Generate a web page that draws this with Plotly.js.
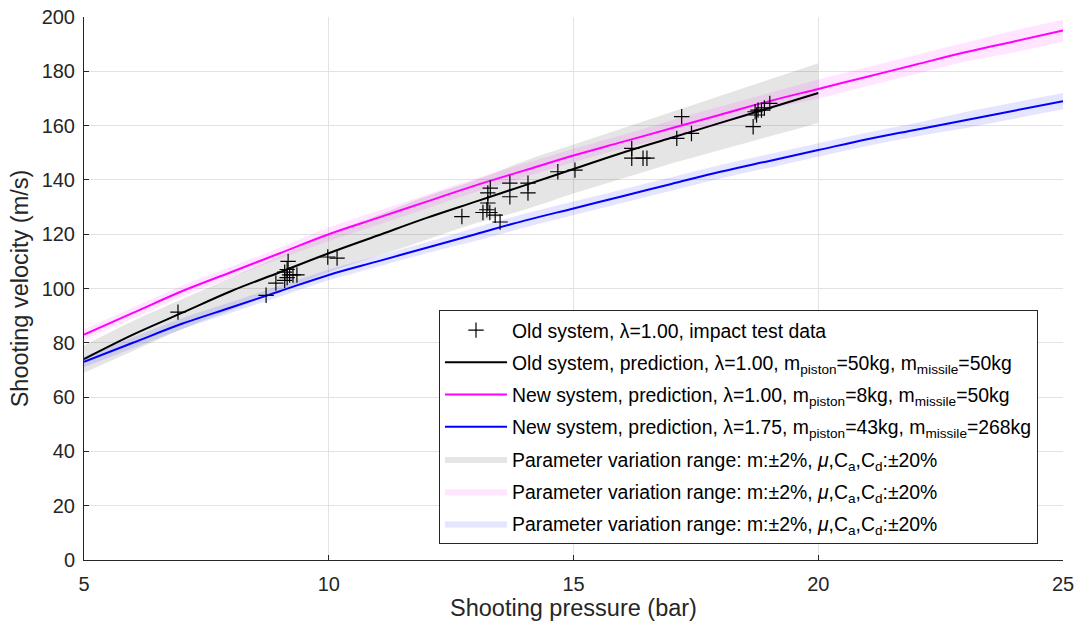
<!DOCTYPE html>
<html>
<head>
<meta charset="utf-8">
<script src="https://cdn.plot.ly/plotly-3.0.1.min.js"></script>
<style>html,body{margin:0;padding:0;background:#fff;}#chart{width:1081px;height:628px;}</style>
</head>
<body>
<div id="chart"></div>
<script>
// Old system prediction (5..20 bar)
var pOld = [5,6,7,8,9,10,11,12,13,14,15,16,17,18,19,20];
var vOld = [74,83,91,99,106,113,119.5,126,132,138,144,150,155.5,161,166.5,172];
var vOldUpper = [79,88,96,104,112,120,127,134,140,147,153,159,165,171,177,183];
var vOldLower = [69,77,85,92,99,106,112,118,124,129,135,140.5,146,151,156,161];

// New systems prediction (5..25 bar)
var pNew = [5,6,7,8,9,10,11,12,13,14,15,16,17,18,19,20,21,22,23,24,25];
var vMag = [83,91,99,106,113,120,126,132,138,143.5,149,154,159,164,169,173.5,178,182.5,187,191,195];
var vMagUpper = [85,93,101,108,115,122.5,128.5,134.5,140.5,146,151.5,156.5,162,167,172,177,181.5,186,190.5,195,199];
var vMagLower = [81,89,97,104,111,117.5,123.5,129.5,135.5,141,146.5,151.5,156,161,166,170,174.5,179,183.5,187,191];
var vBlue = [73,80,87,93,99,105,110,115,120,125,129.5,134,138.5,143,147,151,155,158.5,162,165.5,169];
var vBlueUpper = [75,82,89,95,101,107,112,117,122.5,127.5,132,136.5,141,145.5,149.5,153.5,157.5,161,165,168.5,172];
var vBlueLower = [71,78,85,91,97,103,108,113,117.5,122.5,127,131.5,136,140.5,144.5,148.5,152.5,156,159,162.5,166];

// Impact test data (old system)
var testP = [6.92,8.72,8.92,9.1,9.15,9.15,9.2,9.27,9.35,9.17,9.1,9.98,10.17,
             12.72,13.25,13.25,13.23,13.15,13.29,13.4,13.5,13.3,13.7,13.7,14.07,14.07,14.68,15.03,
             16.19,16.19,16.42,16.5,17.21,17.11,17.41,18.67,18.71,18.77,18.84,19.01,18.9,18.74];
var testV = [91.3,97.5,102,106,104,107,105,105,105,110,103,111.6,111.2,
             126.5,135.2,131.5,129,128,128,127,124.5,137,138.8,133.8,138.8,135.2,143,143.6,
             151.6,148,148,148,163.3,155.3,157.1,159.6,165.1,165.7,165.7,168.2,166.5,163.9];

var xTicks = [5,10,15,20,25];
var yTicks = [0,20,40,60,80,100,120,140,160,180,200];

var bandName = 'Parameter variation range: m:\u00B12%, <i>\u03BC</i>,C<sub>a</sub>,C<sub>d</sub>:\u00B120%';

function band(p, up, lo, color, rank, grp) {
  return [
    {x: p, y: lo, type: 'scatter', mode: 'lines',
     line: {width: 0, color: color, shape: 'spline'},
     showlegend: false, legendgroup: grp, hoverinfo: 'skip'},
    {x: p, y: up, type: 'scatter', mode: 'lines', fill: 'tonexty',
     fillcolor: color, line: {width: 0, color: color, shape: 'spline'},
     name: bandName, legendrank: rank, legendgroup: grp, hoverinfo: 'skip'}
  ];
}

var traces = [].concat(
  band(pOld, vOldUpper, vOldLower, 'rgba(0,0,0,0.1)', 5, 'g5'),
  band(pNew, vMagUpper, vMagLower, 'rgba(255,0,255,0.1)', 6, 'g6'),
  band(pNew, vBlueUpper, vBlueLower, 'rgba(0,0,255,0.1)', 7, 'g7'),
  [
  {x: pOld, y: vOld, type: 'scatter', mode: 'lines', line: {color: '#000000', width: 2, shape: 'spline'},
   name: 'Old system, prediction, \u03BB=1.00, m<sub>piston</sub>=50kg, m<sub>missile</sub>=50kg', legendrank: 2, legendgroup: 'g2'},
  {x: pNew, y: vMag, type: 'scatter', mode: 'lines', line: {color: '#ff00ff', width: 2, shape: 'spline'},
   name: 'New system, prediction, \u03BB=1.00, m<sub>piston</sub>=8kg, m<sub>missile</sub>=50kg', legendrank: 3, legendgroup: 'g3'},
  {x: pNew, y: vBlue, type: 'scatter', mode: 'lines', line: {color: '#0000ff', width: 2, shape: 'spline'},
   name: 'New system, prediction, \u03BB=1.75, m<sub>piston</sub>=43kg, m<sub>missile</sub>=268kg', legendrank: 4, legendgroup: 'g4'},
  {x: testP, y: testV, type: 'scatter', mode: 'markers',
   marker: {symbol: 'cross-thin-open', size: 11, color: '#000000', line: {color: '#000000', width: 1.2}},
   name: 'Old system, \u03BB=1.00, impact test data', legendrank: 1, legendgroup: 'g1'}
  ]
);

var axisCommon = {
  showline: true, linecolor: '#262626', linewidth: 1,
  ticks: 'inside', ticklen: 5, tickcolor: '#262626',
  showgrid: true, gridcolor: '#e3e3e3', gridwidth: 1,
  zeroline: false, mirror: false,
  tickfont: {family: 'Liberation Sans, Arial, sans-serif', size: 20, color: '#262626'}
};

var layout = {
  width: 1081, height: 628,
  margin: {l: 84, r: 18, t: 17, b: 68},
  paper_bgcolor: '#ffffff', plot_bgcolor: '#ffffff',
  font: {family: 'Liberation Sans, Arial, sans-serif', color: '#262626'},
  xaxis: Object.assign({}, axisCommon, {
    range: [5, 25], tickvals: xTicks, ticktext: xTicks.map(String), ticklabelstandoff: 6,
    title: {text: 'Shooting pressure (bar)', font: {size: 23.5, color: '#262626'}, standoff: 4}
  }),
  yaxis: Object.assign({}, axisCommon, {
    range: [0, 200], tickvals: yTicks, ticktext: yTicks.map(String), ticklabelstandoff: 4,
    title: {text: 'Shooting velocity (m/s)', font: {size: 23.5, color: '#262626'}, standoff: 6}
  }),
  showlegend: true,
  legend: {
    x: 0.3626, y: 0.4604, xanchor: 'left', yanchor: 'top',
    bgcolor: '#ffffff', bordercolor: '#262626', borderwidth: 1,
    font: {family: 'Liberation Sans, Arial, sans-serif', size: 19.4, color: '#000000'},
    itemwidth: 62,
    traceorder: 'grouped', tracegroupgap: 4
  }
};

Plotly.newPlot('chart', traces, layout, {displayModeBar: false, staticPlot: true});
</script>
</body>
</html>
